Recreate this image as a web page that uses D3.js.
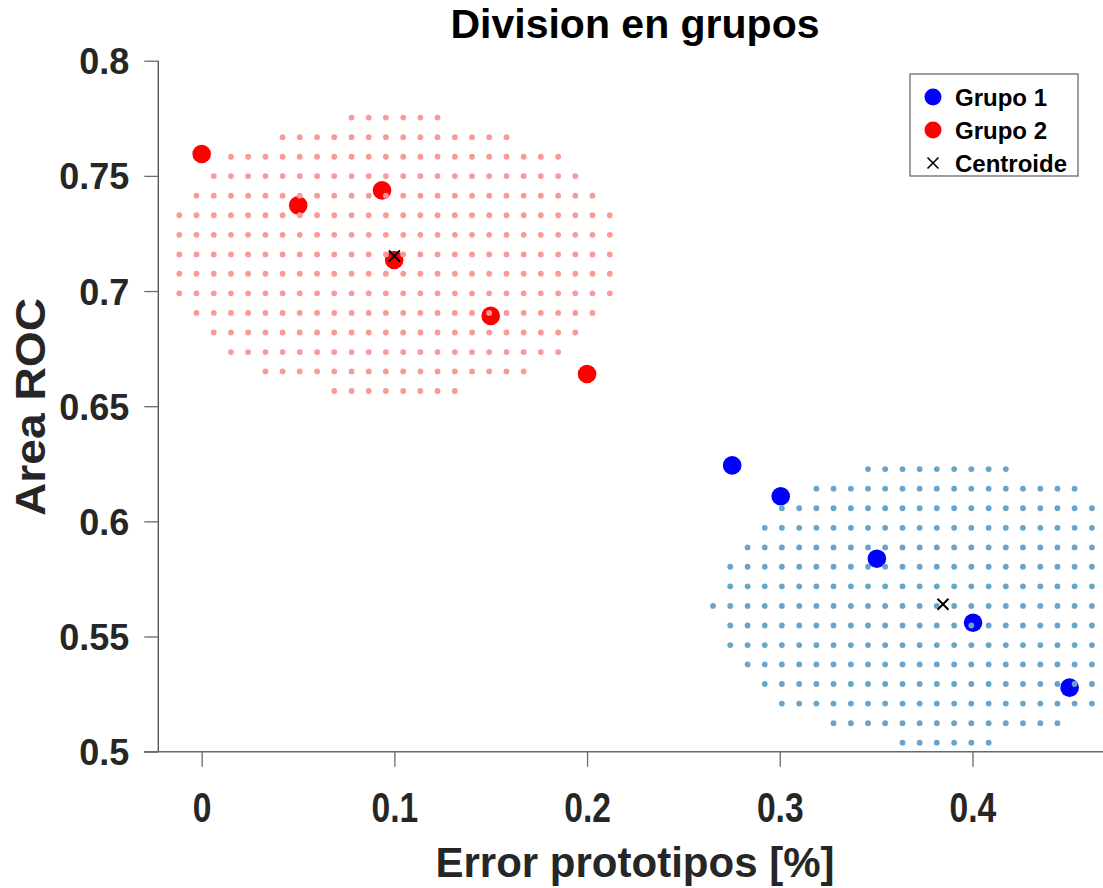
<!DOCTYPE html>
<html><head><meta charset="utf-8">
<script src="https://cdn.jsdelivr.net/npm/d3@7"></script>
<style>body{margin:0;background:#fff}svg{display:block}</style>
</head><body>
<svg id="c" width="1103" height="888"></svg>
<script>
// ---- data ----
const group1X = [0.2753, 0.3005, 0.3504, 0.4003, 0.4504];
const group1Y = [0.6243, 0.6109, 0.5838, 0.5560, 0.5278];
const group2X = [0.0000, 0.0501, 0.0936, 0.0999, 0.1500, 0.2000];
const group2Y = [0.7595, 0.7372, 0.7437, 0.7135, 0.6892, 0.6640];
const centroidX = [0.3847, 0.1000];
const centroidY = [0.5640, 0.7152];
const xTicks = [0, 0.1, 0.2, 0.3, 0.4];
const yTicks = [0.5, 0.55, 0.6, 0.65, 0.7, 0.75, 0.8];
const legendLabels = ["Grupo 1", "Grupo 2", "Centroide"];
// classification mesh (grid of evaluated points)
const meshX = [-0.0116,-0.0027,0.0063,0.0152,0.0241,0.0331,0.0420,0.0509,0.0599,0.0688,
  0.0778,0.0867,0.0956,0.1046,0.1135,0.1224,0.1314,0.1403,0.1492,0.1582,
  0.1671,0.1760,0.1850,0.1939,0.2028,0.2118,0.2207,0.2296,0.2386,0.2475,
  0.2565,0.2654,0.2743,0.2833,0.2922,0.3011,0.3101,0.3190,0.3279,0.3369,
  0.3458,0.3547,0.3637,0.3726,0.3815,0.3905,0.3994,0.4084,0.4173,0.4262,
  0.4352,0.4441,0.4530,0.4620];
const meshY = [0.7753,0.7668,0.7583,0.7499,0.7414,0.7329,0.7244,0.7159,0.7075,0.6990,
  0.6905,0.6820,0.6735,0.6651,0.6566,0.6481,0.6396,0.6311,0.6227,0.6142,
  0.6057,0.5972,0.5887,0.5803,0.5718,0.5633,0.5548,0.5463,0.5379,0.5294,
  0.5209,0.5124,0.5039];
// [mesh row, first mesh column, last mesh column]
const region2Rows = [[0,10,15],[1,6,19],[2,3,22],[3,2,23],[4,1,24],[5,0,25],[6,0,25],[7,0,25],
  [8,0,25],[9,0,25],[10,1,24],[11,2,23],[12,3,22],[13,5,20],[14,9,16]];
const region1Rows = [[18,40,48],[19,37,52],[20,35,53],[21,34,53],[22,33,53],[23,32,53],[24,32,53],
  [25,31,53],[26,32,53],[27,32,53],[28,33,53],[29,34,53],[30,35,53],[31,38,51],[32,42,47]];

// ---- drawing ----
const svg = d3.select("#c");
const FONT = "'Liberation Sans', Arial, Helvetica, sans-serif";
const x = d3.scaleLinear().domain([-0.0225, 0.4725]).range([158.3, 158.3 + 0.495 * 1927]);
const y = d3.scaleLinear().domain([0.5, 0.8]).range([751.7, 60.7]);

function expand(rows) {
  const pts = [];
  rows.forEach(([r, c0, c1]) => {
    for (let c = c0; c <= c1; c++) pts.push([meshX[c], meshY[r]]);
  });
  return pts;
}
const g1 = group1X.map((v, i) => [v, group1Y[i]]);
const g2 = group2X.map((v, i) => [v, group2Y[i]]);

// main points
svg.append("g").selectAll("circle").data(g2).join("circle")
  .attr("cx", d => x(d[0])).attr("cy", d => y(d[1])).attr("r", 9.3).attr("fill", "#ff0000");
svg.append("g").selectAll("circle").data(g1).join("circle")
  .attr("cx", d => x(d[0])).attr("cy", d => y(d[1])).attr("r", 9.3).attr("fill", "#0000ff");

// mesh regions
svg.append("g").selectAll("circle").data(expand(region2Rows)).join("circle")
  .attr("cx", d => x(d[0])).attr("cy", d => y(d[1])).attr("r", 2.9).attr("fill", "#f89a9a");
svg.append("g").selectAll("circle").data(expand(region1Rows)).join("circle")
  .attr("cx", d => x(d[0])).attr("cy", d => y(d[1])).attr("r", 2.9).attr("fill", "#68a4cc");

// centroids
const cs = 5.5;
svg.append("g").selectAll("path").data(centroidX.map((v, i) => [v, centroidY[i]])).join("path")
  .attr("d", d => {
    const cx = x(d[0]), cy = y(d[1]);
    return `M${cx-cs},${cy-cs}L${cx+cs},${cy+cs}M${cx-cs},${cy+cs}L${cx+cs},${cy-cs}`;
  })
  .attr("stroke", "#000").attr("stroke-width", 2).attr("fill", "none");

// axes
const axisColor = "#4a4a4a";
const yAxis = svg.append("g").attr("transform", "translate(158.3,0)")
  .call(d3.axisLeft(y).tickValues(yTicks).tickSize(14).tickFormat(d3.format("")));
yAxis.select(".domain").attr("stroke", axisColor).attr("stroke-width", 1.3).attr("d", `M0,${y(0.8)}V${y(0.5)}`);
yAxis.selectAll(".tick line").attr("stroke", "#6a6a6a").attr("stroke-width", 1.3);
yAxis.selectAll(".tick text")
  .attr("x", -29).attr("dy", "0.36em")
  .attr("font-family", FONT).attr("font-weight", "bold").attr("font-size", 36).attr("fill", "#262626");

const xAxis = svg.append("g").attr("transform", "translate(0,751.7)")
  .call(d3.axisBottom(x).tickValues(xTicks).tickSize(15).tickFormat(d3.format("")));
xAxis.select(".domain").attr("stroke", "#6a6a6a").attr("stroke-width", 1.5).attr("d", `M144,0H1103`);
xAxis.selectAll(".tick line").attr("stroke", "#6a6a6a").attr("stroke-width", 1.3);
xAxis.selectAll(".tick text")
  .attr("y", 0).attr("dy", 0)
  .attr("transform", "translate(0,70) scale(0.8,1)")
  .attr("font-family", FONT).attr("font-weight", "bold").attr("font-size", 42).attr("fill", "#262626");

// title & labels
svg.append("text").attr("x", 635).attr("y", 38).attr("text-anchor", "middle")
  .attr("font-family", FONT).attr("font-weight", "bold").attr("font-size", 41).attr("fill", "#000")
  .text("Division en grupos");
svg.append("text").attr("x", 635).attr("y", 877).attr("text-anchor", "middle")
  .attr("font-family", FONT).attr("font-weight", "bold").attr("font-size", 42).attr("fill", "#262626")
  .text("Error prototipos [%]");
svg.append("text").attr("transform", "translate(45,407) rotate(-90)").attr("text-anchor", "middle")
  .attr("font-family", FONT).attr("font-weight", "bold").attr("font-size", 42).attr("fill", "#262626")
  .attr("textLength", 218).attr("lengthAdjust", "spacingAndGlyphs")
  .text("Area ROC");

// legend
const lg = svg.append("g");
lg.append("rect").attr("x", 910).attr("y", 74).attr("width", 168).attr("height", 102)
  .attr("fill", "#fff").attr("stroke", "#6a6a6a").attr("stroke-width", 1.3);
const rowsY = [97, 130, 163];
lg.append("circle").attr("cx", 933).attr("cy", rowsY[0]).attr("r", 8.5).attr("fill", "#0000ff");
lg.append("circle").attr("cx", 933).attr("cy", rowsY[1]).attr("r", 8.5).attr("fill", "#ff0000");
lg.append("path").attr("d", `M${933-cs},${rowsY[2]-cs}L${933+cs},${rowsY[2]+cs}M${933-cs},${rowsY[2]+cs}L${933+cs},${rowsY[2]-cs}`)
  .attr("stroke", "#000").attr("stroke-width", 1.6);
lg.selectAll("text").data(legendLabels).join("text")
  .attr("x", 955).attr("y", (d, i) => rowsY[i]).attr("dy", "0.36em")
  .attr("font-family", FONT).attr("font-weight", "bold").attr("font-size", 24).attr("fill", "#000")
  .text(d => d);
</script>
</body></html>
